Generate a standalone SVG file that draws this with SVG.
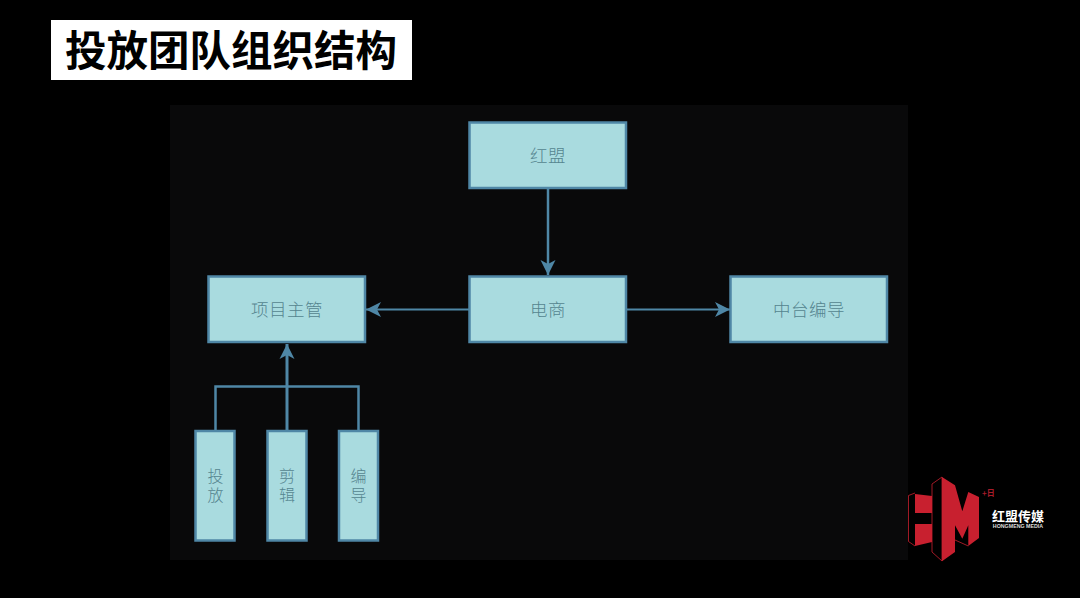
<svg xmlns="http://www.w3.org/2000/svg" width="1080" height="598" viewBox="0 0 1080 598">
<defs>
<style>
.box{fill:#a9dbdf;stroke:#4f87a6;stroke-width:2.5}
.lbl{font-family:"Noto Sans CJK SC","Liberation Serif",serif;font-size:17.5px;font-weight:300;fill:#55858f;text-anchor:middle;letter-spacing:.5px}
.lblv{font-size:16px;letter-spacing:3px;writing-mode:vertical-rl}
.lnk{fill:none;stroke:#4f87a6}
.red{fill:#c8202f}
</style>
<marker id="a" markerUnits="userSpaceOnUse" markerWidth="17" markerHeight="16" refX="15" refY="8" orient="auto"><path d="M0 0.500L15 8L0 15.500L4 8Z" fill="#4f87a6"/></marker>
</defs>
<rect width="1080" height="598" fill="#000"/>
<rect x="170" y="105" width="738" height="455" fill="#09090a"/>
<g id="title">
<rect x="51" y="20" width="361" height="60" fill="#fff"/>
<text x="231" y="66" font-family="'Noto Sans CJK SC',sans-serif" font-weight="700" font-size="41.5" text-anchor="middle" fill="#000">投放团队组织结构</text>
</g>
<g id="connectors">
<path class="lnk" stroke-width="2.500" d="M548 188V275" marker-end="url(#a)"/>
<path class="lnk" stroke-width="2" d="M469 309.500H366" marker-end="url(#a)"/>
<path class="lnk" stroke-width="2" d="M627 309.500H730" marker-end="url(#a)"/>
<path class="lnk" stroke-width="3" d="M287 430V344" marker-end="url(#a)"/>
<path class="lnk" stroke-width="2.500" d="M215.500 430V386.500H358.500V430"/>
</g>
<g id="n-hongmeng"><rect class="box" x="469.500" y="122.500" width="156.500" height="65.500"/><text class="lbl" x="548" y="162">红盟</text></g>
<g id="n-dianshang"><rect class="box" x="469.500" y="276.500" width="156.500" height="65.500"/><text class="lbl" x="548" y="316">电商</text></g>
<g id="n-xiangmu"><rect class="box" x="208.500" y="276.500" width="156.500" height="65.500"/><text class="lbl" x="287" y="316">项目主管</text></g>
<g id="n-zhongtai"><rect class="box" x="730.500" y="276.500" width="156.500" height="65.500"/><text class="lbl" x="809" y="316">中台编导</text></g>
<g id="n-toufang"><rect class="box" x="195.500" y="431" width="39" height="109.500"/><text class="lbl lblv" x="215.500" y="487">投放</text></g>
<g id="n-jianji"><rect class="box" x="267.500" y="431" width="39" height="109.500"/><text class="lbl lblv" x="287" y="487">剪辑</text></g>
<g id="n-biandao"><rect class="box" x="339" y="431" width="39" height="109.500"/><text class="lbl lblv" x="358.500" y="487">编导</text></g>
<g id="logo">
<path d="M915 493L908.500 495.500V541.500L915 546" fill="#000" stroke="#c8202f" stroke-width=".8"/>
<path class="red" d="M915 494L932 496V513H915ZM915 524H932V542L915 546Z"/>
<path d="M932 484L942 477V561L932 552Z" fill="#000" stroke="#c8202f" stroke-width=".8"/>
<path class="red" d="M942 477L955 485.300L962.300 511.300L968.300 492L979 497V538L968.300 546V525.300L962.300 538.700L955 525.300V552L942 561.300Z"/>
<path d="M955 540L968.300 546" stroke="#c8202f" stroke-width=".8" fill="none"/>
<text x="982" y="496" font-family="'Noto Sans CJK SC',sans-serif" font-size="8" font-weight="700" fill="#a81c2a">+日</text>
<text x="1018" y="521" font-family="'Noto Sans CJK SC',sans-serif" font-size="13" font-weight="700" fill="#fff" text-anchor="middle">红盟传媒</text>
<text x="1018" y="528" font-family="'Liberation Sans',sans-serif" font-size="5.300" font-weight="700" fill="#ddd" text-anchor="middle">HONGMENG MEDIA</text>
</g>
</svg>
